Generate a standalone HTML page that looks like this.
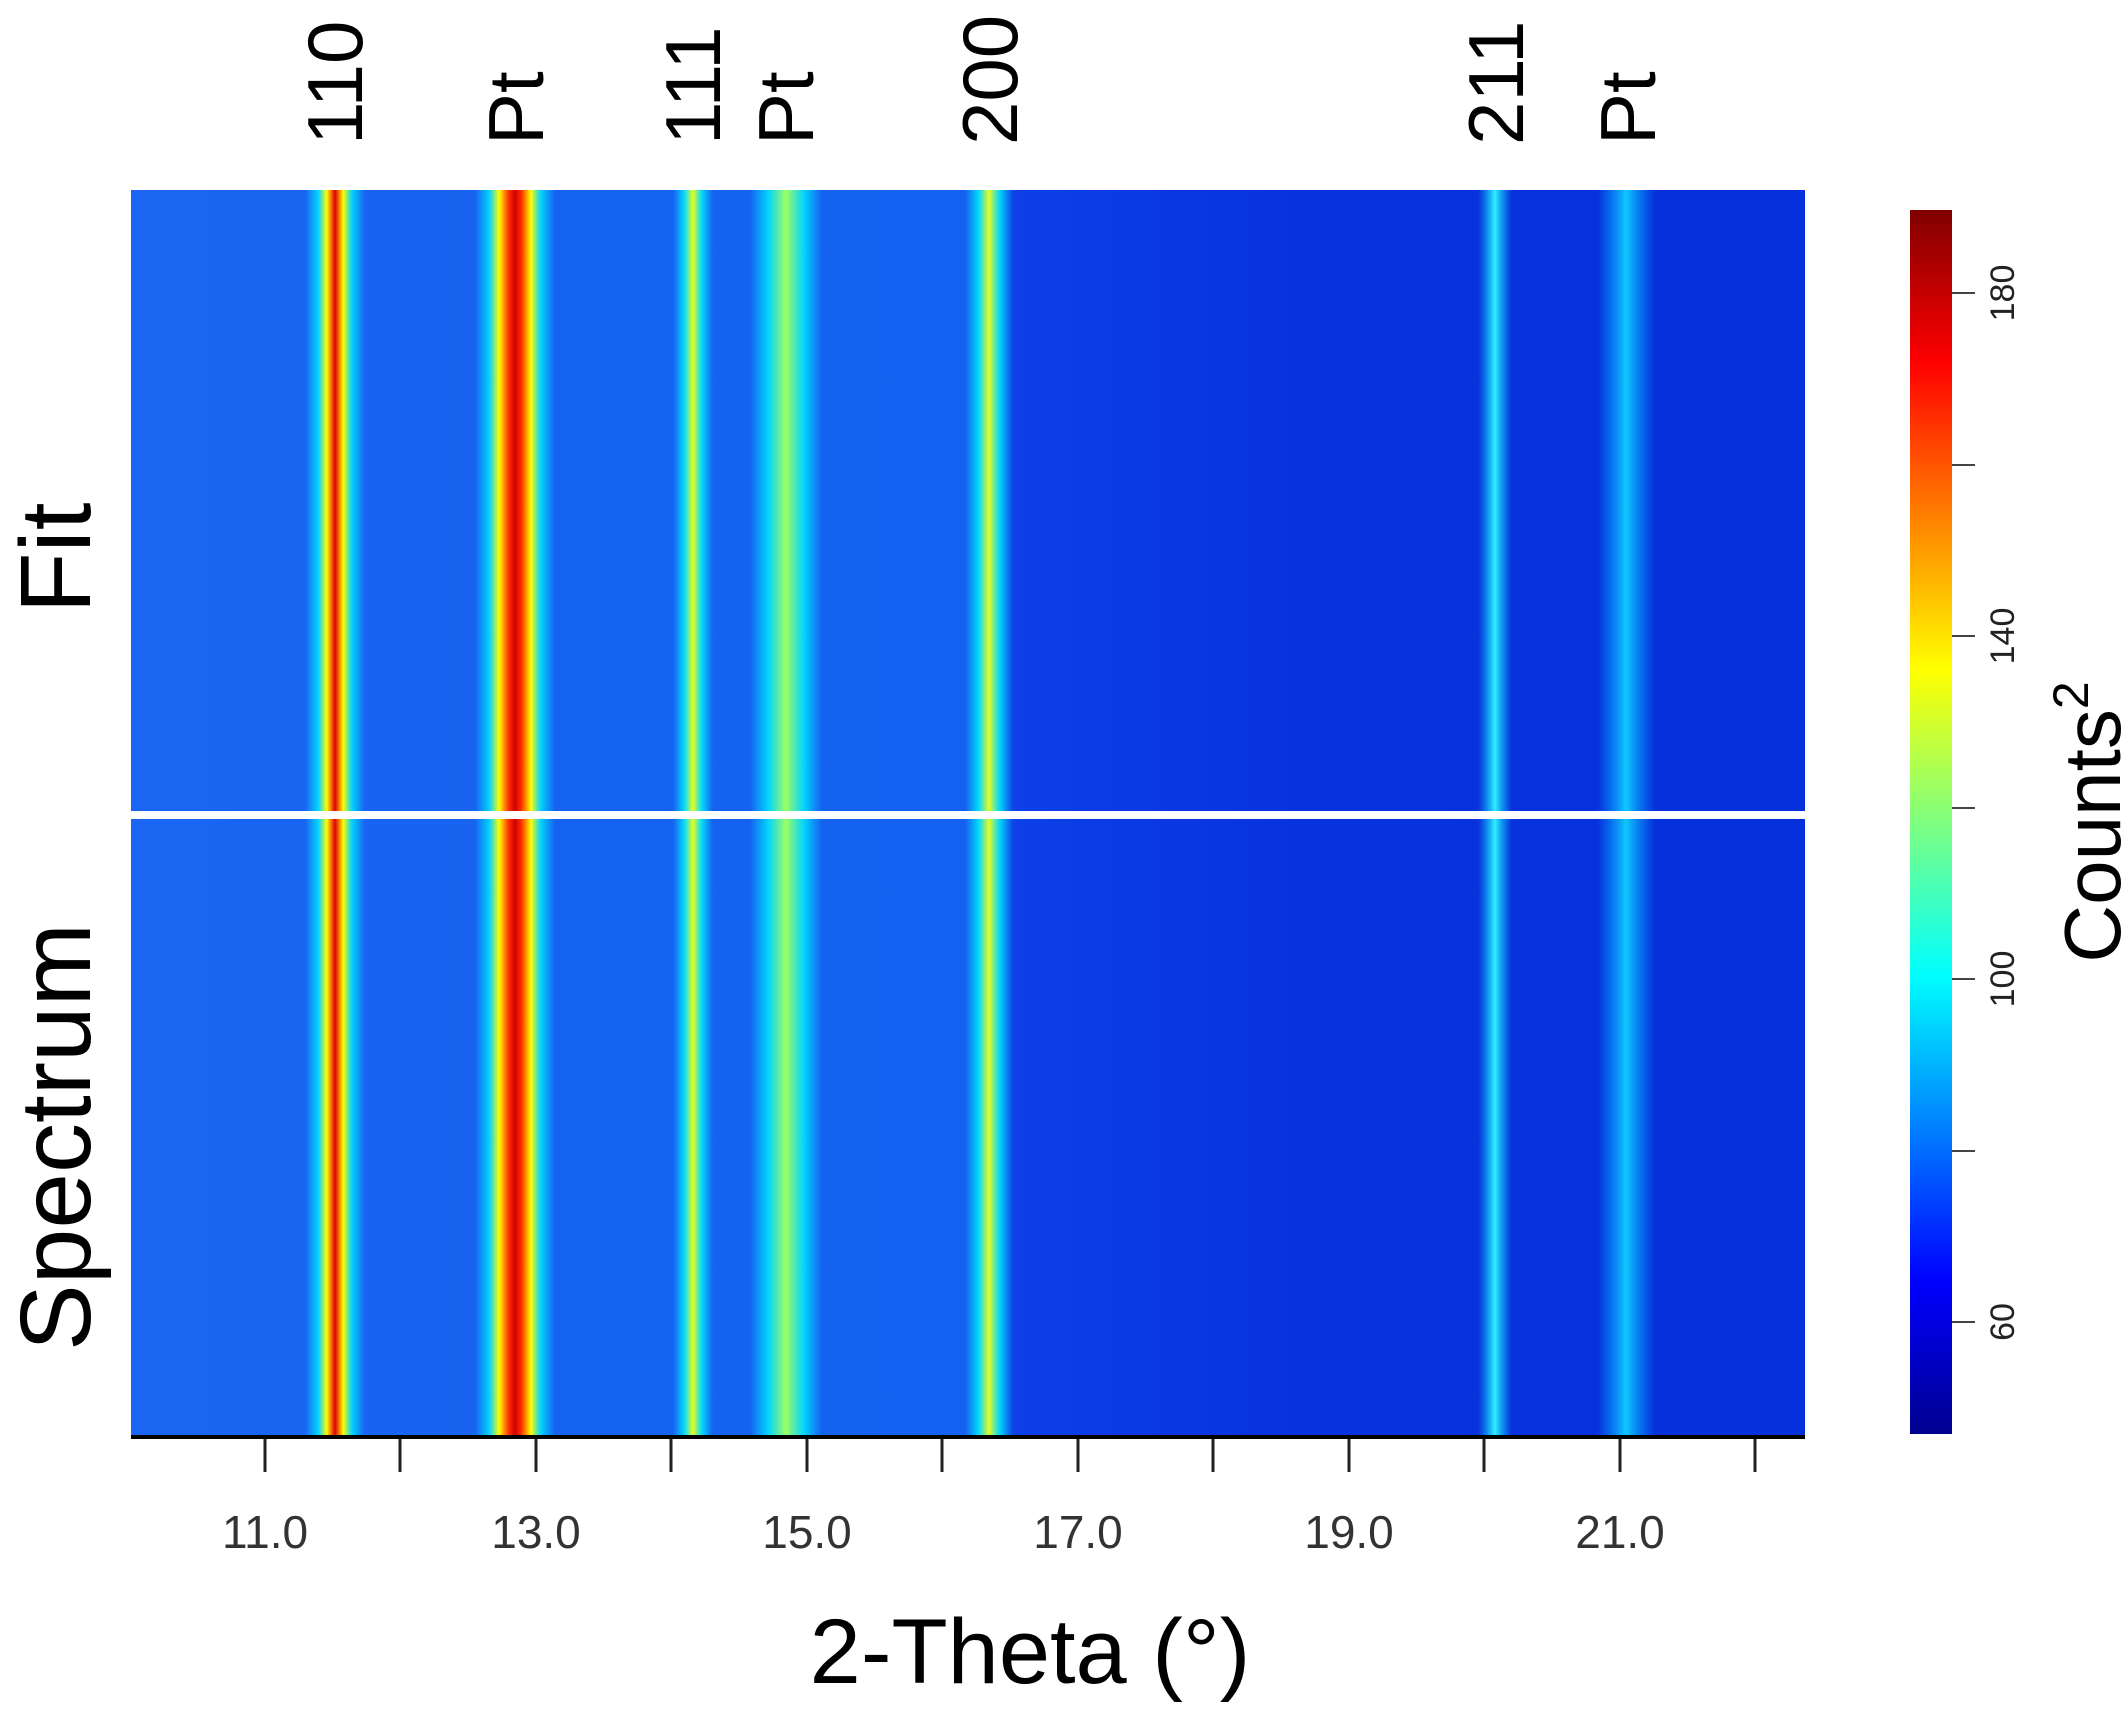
<!DOCTYPE html>
<html><head><meta charset="utf-8"><style>
html,body{margin:0;padding:0;background:#fff;}
svg{display:block;}
text{font-family:"Liberation Sans",sans-serif;}
</style></head><body>
<svg width="2125" height="1710" viewBox="0 0 2125 1710" xmlns="http://www.w3.org/2000/svg">
<defs>
<linearGradient id="bg" x1="0" x2="1" y1="0" y2="0">
<stop offset="0" stop-color="#1a66f2"/>
<stop offset="0.5" stop-color="#1460f0"/>
<stop offset="0.53" stop-color="#0c40e6"/>
<stop offset="0.7" stop-color="#0832dc"/>
<stop offset="1" stop-color="#0530dc"/>
</linearGradient>
<linearGradient id="cb" x1="0" x2="0" y1="0" y2="1">
<stop offset="0" stop-color="#800000"/>
<stop offset="0.125" stop-color="#ff0000"/>
<stop offset="0.375" stop-color="#ffff00"/>
<stop offset="0.625" stop-color="#00ffff"/>
<stop offset="0.875" stop-color="#0000ff"/>
<stop offset="1" stop-color="#00008f"/>
</linearGradient>
<linearGradient id="pRed" x1="0" x2="1">
<stop offset="0" stop-color="#00e0ff" stop-opacity="0"/>
<stop offset="0.22" stop-color="#00e8ff" stop-opacity="0.85"/>
<stop offset="0.36" stop-color="#ffff00"/>
<stop offset="0.5" stop-color="#e00000"/>
<stop offset="0.64" stop-color="#ffff00"/>
<stop offset="0.78" stop-color="#00e8ff" stop-opacity="0.85"/>
<stop offset="1" stop-color="#00e0ff" stop-opacity="0"/>
</linearGradient>
<linearGradient id="pRedW" x1="0" x2="1">
<stop offset="0" stop-color="#00e0ff" stop-opacity="0"/>
<stop offset="0.18" stop-color="#00e8ff" stop-opacity="0.85"/>
<stop offset="0.3" stop-color="#ffff00"/>
<stop offset="0.42" stop-color="#ff3000"/>
<stop offset="0.5" stop-color="#d00000"/>
<stop offset="0.58" stop-color="#ff3000"/>
<stop offset="0.7" stop-color="#ffff00"/>
<stop offset="0.82" stop-color="#00e8ff" stop-opacity="0.85"/>
<stop offset="1" stop-color="#00e0ff" stop-opacity="0"/>
</linearGradient>
<linearGradient id="pYel" x1="0" x2="1">
<stop offset="0" stop-color="#00e0ff" stop-opacity="0"/>
<stop offset="0.28" stop-color="#00f0ff" stop-opacity="0.85"/>
<stop offset="0.5" stop-color="#e8ff20"/>
<stop offset="0.72" stop-color="#00f0ff" stop-opacity="0.85"/>
<stop offset="1" stop-color="#00e0ff" stop-opacity="0"/>
</linearGradient>
<linearGradient id="pGrn" x1="0" x2="1">
<stop offset="0" stop-color="#00e0ff" stop-opacity="0"/>
<stop offset="0.25" stop-color="#00e8ff" stop-opacity="0.85"/>
<stop offset="0.5" stop-color="#a0ff60"/>
<stop offset="0.75" stop-color="#00e8ff" stop-opacity="0.85"/>
<stop offset="1" stop-color="#00e0ff" stop-opacity="0"/>
</linearGradient>
<linearGradient id="pCy" x1="0" x2="1">
<stop offset="0" stop-color="#00c0ff" stop-opacity="0"/>
<stop offset="0.5" stop-color="#30f0ff"/>
<stop offset="1" stop-color="#00c0ff" stop-opacity="0"/>
</linearGradient>
<linearGradient id="pCy2" x1="0" x2="1">
<stop offset="0" stop-color="#00a0ff" stop-opacity="0"/>
<stop offset="0.5" stop-color="#10c8ff"/>
<stop offset="1" stop-color="#00a0ff" stop-opacity="0"/>
</linearGradient>
</defs>
<rect x="131" y="190" width="1674" height="1247" fill="url(#bg)"/>
<rect x="305" y="190" width="60" height="1247" fill="url(#pRed)"/>
<rect x="475" y="190" width="80" height="1247" fill="url(#pRedW)"/>
<rect x="673" y="190" width="40" height="1247" fill="url(#pYel)"/>
<rect x="750" y="190" width="72" height="1247" fill="url(#pGrn)"/>
<rect x="965" y="190" width="48" height="1247" fill="url(#pYel)"/>
<rect x="1478" y="190" width="34" height="1247" fill="url(#pCy)"/>
<rect x="1597" y="190" width="58" height="1247" fill="url(#pCy2)"/>
<rect x="131" y="811" width="1674" height="8" fill="#fff"/>
<line x1="131" y1="1437" x2="1805" y2="1437" stroke="#000" stroke-width="4"/>
<g stroke="#222" stroke-width="3">
<line x1="265" y1="1439" x2="265" y2="1472"/><line x1="400" y1="1439" x2="400" y2="1472"/>
<line x1="536" y1="1439" x2="536" y2="1472"/><line x1="671" y1="1439" x2="671" y2="1472"/>
<line x1="807" y1="1439" x2="807" y2="1472"/><line x1="942" y1="1439" x2="942" y2="1472"/>
<line x1="1078" y1="1439" x2="1078" y2="1472"/><line x1="1213" y1="1439" x2="1213" y2="1472"/>
<line x1="1349" y1="1439" x2="1349" y2="1472"/><line x1="1484" y1="1439" x2="1484" y2="1472"/>
<line x1="1620" y1="1439" x2="1620" y2="1472"/><line x1="1755" y1="1439" x2="1755" y2="1472"/>
</g>
<g font-size="46" fill="#333" text-anchor="middle">
<text x="265" y="1548">11.0</text><text x="536" y="1548">13.0</text>
<text x="807" y="1548">15.0</text><text x="1078" y="1548">17.0</text>
<text x="1349" y="1548">19.0</text><text x="1620" y="1548">21.0</text>
</g>
<text x="1030" y="1683" font-size="92" text-anchor="middle" fill="#000">2-Theta (°)</text>
<g font-size="78" fill="#000">
<text transform="translate(362,145) rotate(-90)">110</text>
<text transform="translate(543,145) rotate(-90)">Pt</text>
<text transform="translate(720,145) rotate(-90)">111</text>
<text transform="translate(813,145) rotate(-90)">Pt</text>
<text transform="translate(1017,145) rotate(-90)">200</text>
<text transform="translate(1523,145) rotate(-90)">211</text>
<text transform="translate(1655,145) rotate(-90)">Pt</text>
</g>
<g font-size="100" fill="#000" text-anchor="middle">
<text transform="translate(90,558) rotate(-90)">Fit</text>
<text transform="translate(90,1137) rotate(-90)">Spectrum</text>
</g>
<rect x="1910" y="210" width="42" height="1224" fill="url(#cb)"/>
<g stroke="#444" stroke-width="2">
<line x1="1952" y1="293" x2="1975" y2="293"/><line x1="1952" y1="465" x2="1975" y2="465"/>
<line x1="1952" y1="636" x2="1975" y2="636"/><line x1="1952" y1="808" x2="1975" y2="808"/>
<line x1="1952" y1="979" x2="1975" y2="979"/><line x1="1952" y1="1151" x2="1975" y2="1151"/>
<line x1="1952" y1="1322" x2="1975" y2="1322"/>
</g>
<g font-size="34" fill="#222" text-anchor="middle">
<text transform="translate(2014,293) rotate(-90)">180</text>
<text transform="translate(2014,636) rotate(-90)">140</text>
<text transform="translate(2014,979) rotate(-90)">100</text>
<text transform="translate(2014,1322) rotate(-90)">60</text>
</g>
<text transform="translate(2120,822) rotate(-90)" font-size="80" text-anchor="middle" fill="#000">Counts<tspan font-size="50" dy="-32">2</tspan></text>
</svg>
</body></html>
